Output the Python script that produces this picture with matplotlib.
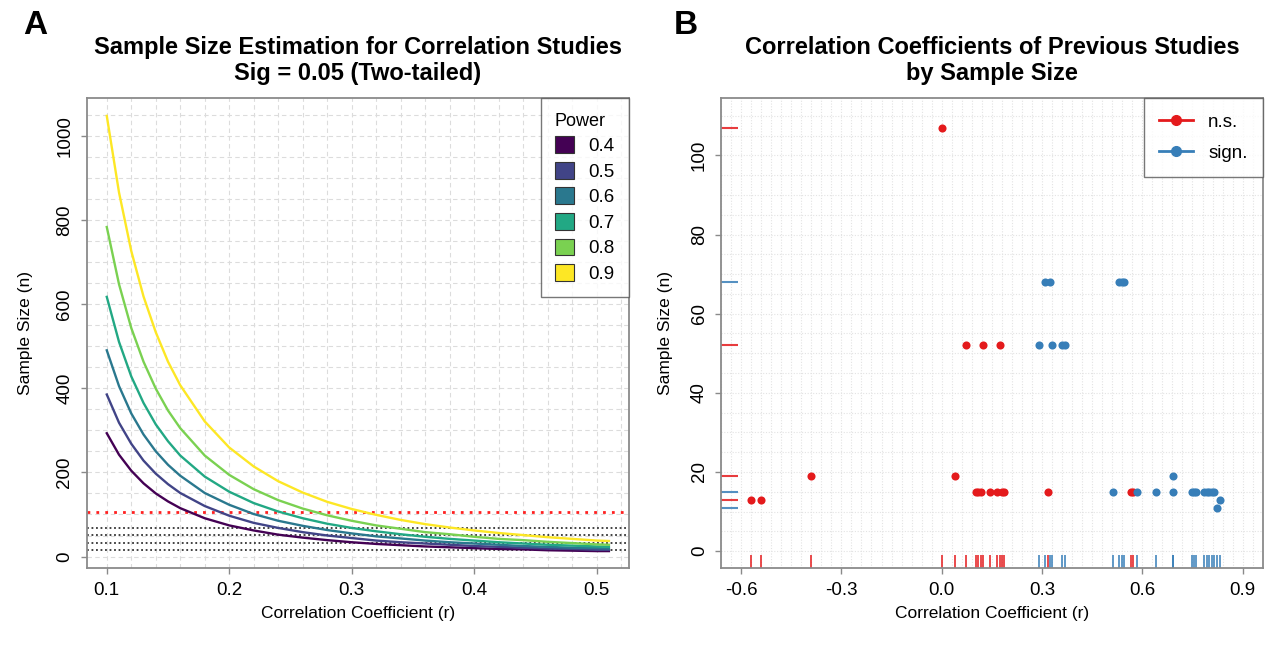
import numpy as np
import matplotlib
matplotlib.use("Agg")
import matplotlib.pyplot as plt
from matplotlib.patches import Patch
from matplotlib.lines import Line2D

plt.rcParams["font.family"] = ["Liberation Sans", "DejaVu Sans"]

# ---- Panel A: required sample size by correlation and power ----
r_values = [0.10, 0.11, 0.12, 0.13, 0.14, 0.15, 0.16, 0.18, 0.20, 0.22, 0.24, 0.26,
            0.28, 0.30, 0.32, 0.34, 0.36, 0.38, 0.40, 0.42, 0.44, 0.46, 0.48, 0.50, 0.51]
power_levels = ["0.4", "0.5", "0.6", "0.7", "0.8", "0.9"]
n_power_04 = [293, 242, 204, 174, 150, 131, 115, 91, 74, 62, 52, 45, 39, 34, 30, 27,
              24, 22, 20, 18, 17, 15, 14, 13, 13]
n_power_05 = [385, 318, 268, 228, 197, 172, 151, 120, 97, 80, 68, 58, 50, 44, 38, 34,
              31, 28, 25, 23, 21, 19, 18, 16, 16]
n_power_06 = [490, 405, 340, 290, 250, 218, 192, 151, 123, 101, 85, 73, 63, 55, 48, 43,
              38, 34, 31, 28, 25, 23, 21, 20, 19]
n_power_07 = [617, 510, 428, 365, 314, 274, 240, 190, 154, 127, 107, 91, 78, 68, 60, 53,
              47, 42, 38, 34, 31, 28, 26, 24, 23]
n_power_08 = [783, 647, 543, 463, 399, 347, 305, 240, 194, 160, 134, 114, 98, 85, 74, 66,
              58, 53, 47, 42, 39, 35, 32, 29, 28]
n_power_09 = [1047, 865, 726, 618, 533, 463, 407, 321, 259, 214, 179, 152, 130, 113, 99, 87,
              77, 69, 62, 56, 51, 46, 42, 38, 37]
max_n_line = 107
other_n_lines = [69, 51, 33, 15]

# ---- Panel B: previous studies ----
ns_r = [-0.57, -0.54, -0.39, 0.04, 0.00, 0.074, 0.124, 0.173,
        0.103, 0.109, 0.117, 0.145, 0.165, 0.179, 0.186, 0.317, 0.565, 0.572]
ns_n = [13, 13, 19, 19, 107, 52, 52, 52,
        15, 15, 15, 15, 15, 15, 15, 15, 15, 15]
sign_r = [0.31, 0.325, 0.531, 0.538, 0.545, 0.29, 0.33, 0.36, 0.37,
          0.513, 0.583, 0.641, 0.691, 0.748, 0.754, 0.760, 0.785, 0.792, 0.799, 0.807, 0.814,
          0.691, 0.831, 0.822]
sign_n = [68, 68, 68, 68, 68, 52, 52, 52, 52,
          15, 15, 15, 15, 15, 15, 15, 15, 15, 15, 15, 15,
          19, 13, 11]
ns_n_rug = [107, 52, 19, 13]
sign_n_rug = [68, 15, 11]

viridis6 = ["#440154", "#414487", "#2A788E", "#22A884", "#7AD151", "#FDE725"]
red = "#E41A1C"
blue = "#377EB8"
frame_col = "#8a8a8a"

fig = plt.figure(figsize=(12.73, 6.48), dpi=100)
axA = fig.add_axes([0.0681, 0.1227, 0.4260, 0.7253])
axB = fig.add_axes([0.5664, 0.1227, 0.4255, 0.7253])


def style_axes(ax):
    for s in ax.spines.values():
        s.set_color(frame_col)
        s.set_linewidth(1.3)
    ax.tick_params(direction="out", length=4, width=1, color=frame_col,
                   labelsize=13.5, pad=5.5)
    for lab in ax.get_yticklabels():
        lab.set_rotation(90)
        lab.set_va("center")


# Panel A
all_n = [n_power_04, n_power_05, n_power_06, n_power_07, n_power_08, n_power_09]
for xv in np.arange(0.10, 0.53, 0.02):
    axA.axvline(xv, color="#dcdcdc", lw=0.8, ls=(0, (4, 3)), zorder=0)
for yv in np.arange(0, 1100, 50):
    axA.axhline(yv, color="#dcdcdc", lw=0.8, ls=(0, (4, 3)), zorder=0)
for n_vals, col in zip(all_n, viridis6):
    axA.plot(r_values, n_vals, color=col, lw=1.7, zorder=3)
axA.axhline(max_n_line, color="#ff2020", lw=2.0, ls=(0, (1, 2.2)), zorder=2)
for yv in other_n_lines:
    axA.axhline(yv, color="#333333", lw=1.3, ls=(0, (1, 1.5)), zorder=2)

ymin = min(min(v) for v in all_n)
ymax = max(max(v) for v in all_n)
yext = 0.04 * (ymax - ymin)
xext = 0.04 * (r_values[-1] - r_values[0])
axA.set_xlim(r_values[0] - xext, r_values[-1] + xext)
axA.set_ylim(ymin - yext, ymax + yext)
axA.set_xticks([0.1, 0.2, 0.3, 0.4, 0.5])
axA.set_xticklabels(["0.1", "0.2", "0.3", "0.4", "0.5"])
axA.set_yticks([0, 200, 400, 600, 800, 1000])
style_axes(axA)
axA.set_xlabel("Correlation Coefficient (r)", fontsize=12.5, labelpad=5)
axA.set_ylabel("Sample Size (n)", fontsize=12.5, labelpad=17)
axA.set_title("Sample Size Estimation for Correlation Studies\nSig = 0.05 (Two-tailed)",
              fontsize=17, fontweight="bold", pad=13, linespacing=1.2)

handlesA = [Patch(facecolor=c, edgecolor="#333333", lw=0.8) for c in viridis6]
legA = axA.legend(handlesA, power_levels, title="Power", loc="upper right",
                  fontsize=13.5, title_fontsize=13, frameon=True, fancybox=False,
                  edgecolor="#555555", borderaxespad=0, labelspacing=0.36,
                  handlelength=1.0, handleheight=1.0, handletextpad=0.8,
                  borderpad=0.75)
legA.get_frame().set_linewidth(1.0)
legA._legend_box.align = "left"

# Panel B
for xv in np.arange(-0.66, 0.97, 0.03):
    axB.axvline(xv, color="#e3e3e3", lw=0.8, ls=(0, (1, 1.5)), zorder=0)
for yv in np.arange(0, 115, 5):
    axB.axhline(yv, color="#e3e3e3", lw=0.8, ls=(0, (1, 1.5)), zorder=0)

axB.scatter(ns_r, ns_n, s=34, color=red, zorder=3, linewidths=0)
axB.scatter(sign_r, sign_n, s=34, color=blue, zorder=3, linewidths=0)

axB.vlines(sign_r, 0, 0.028, transform=axB.get_xaxis_transform(), color=blue,
           lw=1.3, alpha=0.85, zorder=2)
axB.vlines(ns_r, 0, 0.028, transform=axB.get_xaxis_transform(), color=red,
           lw=1.3, alpha=0.85, zorder=2)
axB.hlines(ns_n_rug, 0, 0.031, transform=axB.get_yaxis_transform(), color=red,
           lw=1.5, alpha=0.85, zorder=2)
axB.hlines(sign_n_rug, 0, 0.031, transform=axB.get_yaxis_transform(), color=blue,
           lw=1.5, alpha=0.85, zorder=2)

axB.set_xlim(-0.66, 0.96)
axB.set_ylim(-4.4, 114.4)
axB.set_xticks([-0.6, -0.3, 0.0, 0.3, 0.6, 0.9])
axB.set_xticklabels(["-0.6", "-0.3", "0.0", "0.3", "0.6", "0.9"])
axB.set_yticks([0, 20, 40, 60, 80, 100])
style_axes(axB)
axB.set_xlabel("Correlation Coefficient (r)", fontsize=12.5, labelpad=5)
axB.set_ylabel("Sample Size (n)", fontsize=12.5, labelpad=13)
axB.set_title("Correlation Coefficients of Previous Studies\nby Sample Size",
              fontsize=17, fontweight="bold", pad=13, linespacing=1.2)

handlesB = [Line2D([0], [0], color=red, marker="o", markersize=7, lw=2),
            Line2D([0], [0], color=blue, marker="o", markersize=7, lw=2)]
legB = axB.legend(handlesB, ["n.s.", "sign."], loc="upper right", fontsize=13.5,
                  frameon=True, fancybox=False, edgecolor="#555555",
                  borderaxespad=0, labelspacing=0.75, handlelength=1.8,
                  borderpad=0.8)
legB.get_frame().set_linewidth(1.0)

fig.text(0.018, 0.984, "A", fontsize=24, fontweight="bold", va="top")
fig.text(0.529, 0.984, "B", fontsize=24, fontweight="bold", va="top")

fig.savefig("out.png", dpi=100)
